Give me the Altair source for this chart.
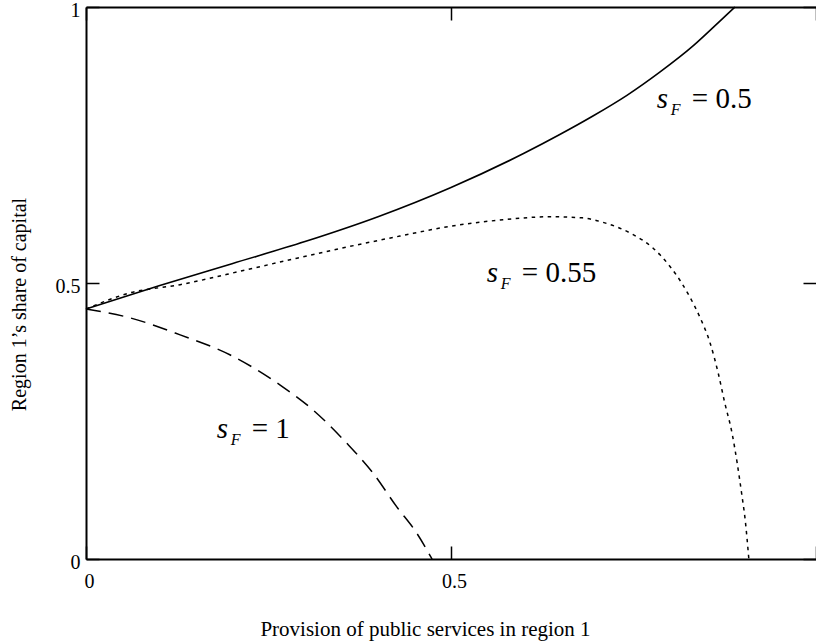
import altair as alt
import pandas as pd

# Region 1's share of capital against provision of public services in region 1
# s_F = 0.5 (solid)
sf05_x = [0.0, 0.1, 0.2, 0.3, 0.4, 0.5, 0.6, 0.649, 0.695, 0.741, 0.786, 0.832, 0.868, 0.889]
sf05_y = [0.453, 0.495, 0.535, 0.575, 0.620, 0.673, 0.735, 0.769, 0.803, 0.840, 0.882, 0.930,
          0.974, 1.0]

# s_F = 0.55 (dotted)
sf055_x = [0.0, 0.06, 0.129, 0.22, 0.289, 0.357, 0.43, 0.5, 0.567, 0.636, 0.68, 0.708,
           0.749, 0.777, 0.8, 0.816, 0.827, 0.841, 0.855, 0.866, 0.875, 0.885, 0.892,
           0.898, 0.903, 0.908]
sf055_y = [0.453, 0.482, 0.497, 0.524, 0.545, 0.565, 0.585, 0.603, 0.614, 0.620, 0.618, 0.610,
           0.588, 0.563, 0.530, 0.500, 0.475, 0.438, 0.391, 0.337, 0.283, 0.228, 0.174,
           0.120, 0.071, 0.0]

# s_F = 1 (dashed)
sf1_x = [0.0, 0.06, 0.129, 0.197, 0.266, 0.311, 0.357, 0.393, 0.426, 0.453, 0.474]
sf1_y = [0.453, 0.437, 0.406, 0.370, 0.315, 0.270, 0.210, 0.156, 0.094, 0.047, 0.0]

# curve labels: anchor of the italic "s", and the right-hand side of the equation
label_x = [0.782, 0.549, 0.179]
label_y = [0.817, 0.502, 0.219]
label_rhs = ["= 0.5", "= 0.55", "= 1"]

tick_values = [0, 0.5, 1]
x_label_values = [0, 0.5]
y_label_values = [0, 0.5, 1]

FONT = "Liberation Serif"

solid = pd.DataFrame({"x": sf05_x, "y": sf05_y})
dotted = pd.DataFrame({"x": sf055_x, "y": sf055_y})
dashed = pd.DataFrame({"x": sf1_x, "y": sf1_y})
labels = pd.DataFrame({"x": label_x, "y": label_y, "rhs": label_rhs})

xs = alt.Scale(domain=[0, 1], nice=False, zero=False)
ys = alt.Scale(domain=[0, 1], nice=False, zero=False)

# main axes: frame lines, tick labels, titles
x_main = alt.Axis(orient="bottom", values=x_label_values, format="~g", grid=False,
                  ticks=False, domain=True, domainColor="black", domainWidth=2,
                  labelFont=FONT, labelFontSize=20, labelColor="black", labelPadding=12,
                  labelFlush=False, labelOffset=3,
                  title="Provision of public services in region 1",
                  titleFont=FONT, titleFontSize=21, titleFontWeight="normal",
                  titleColor="black", titleX=339, titleY=76,
                  titleBaseline="alphabetic", titleAlign="center", titleAnchor="start")
y_main = alt.Axis(orient="left", values=y_label_values, format="~g", grid=False,
                  ticks=False, domain=True, domainColor="black", domainWidth=2,
                  labelFont=FONT, labelFontSize=20, labelColor="black", labelPadding=6,
                  labelFlush=False, labelOffset=3,
                  title="Region 1\u2019s share of capital",
                  titleFont=FONT, titleFontSize=20, titleFontWeight="normal",
                  titleColor="black", titleX=-61, titleY=297, titleAngle=-90,
                  titleBaseline="alphabetic", titleAlign="center", titleAnchor="start")
# top frame line
x_top = alt.Axis(orient="top", grid=False, ticks=False, labels=False, domain=True,
                 domainColor="black", domainWidth=2, title=None)


# inward tick marks on all four sides
def tick_axis(orient):
    return alt.Axis(orient=orient, values=tick_values, grid=False, ticks=True,
                    tickSize=13, tickColor="black", tickWidth=1.5, offset=-13,
                    labels=False, domain=False, title=None)


line_solid = alt.Chart(solid).mark_line(color="black", strokeWidth=1.6,
                                        interpolate="monotone").encode(
    x=alt.X("x:Q", scale=xs, axis=x_main),
    y=alt.Y("y:Q", scale=ys, axis=y_main),
    order="x:Q",
)
line_dotted = alt.Chart(dotted).mark_line(color="black", strokeWidth=1.5,
                                          interpolate="monotone",
                                          strokeDash=[3.5, 4.5]).encode(
    x=alt.X("x:Q", scale=xs, axis=x_top),
    y=alt.Y("y:Q", scale=ys, axis=tick_axis("left")),
    order="x:Q",
)
line_dashed = alt.Chart(dashed).mark_line(color="black", strokeWidth=1.5,
                                          interpolate="monotone",
                                          strokeDash=[15, 8]).encode(
    x=alt.X("x:Q", scale=xs, axis=tick_axis("bottom")),
    y=alt.Y("y:Q", scale=ys, axis=tick_axis("right")),
    order="x:Q",
)

s_text = alt.Chart(labels).mark_text(font=FONT, fontSize=29, fontStyle="italic",
                                     align="left", baseline="alphabetic",
                                     color="black").encode(
    x=alt.X("x:Q", scale=xs, axis=tick_axis("top")),
    y=alt.Y("y:Q", scale=ys, axis=None),
    text=alt.value("s"),
)
f_text = alt.Chart(labels).mark_text(font=FONT, fontSize=16, fontStyle="italic",
                                     align="left", baseline="alphabetic",
                                     dx=14, dy=7, color="black").encode(
    x=alt.X("x:Q", scale=xs, axis=None),
    y=alt.Y("y:Q", scale=ys, axis=None),
    text=alt.value("F"),
)
rhs_text = alt.Chart(labels).mark_text(font=FONT, fontSize=29, align="left",
                                       baseline="alphabetic", dx=35,
                                       color="black").encode(
    x=alt.X("x:Q", scale=xs, axis=None),
    y=alt.Y("y:Q", scale=ys, axis=None),
    text="rhs:N",
)

chart = alt.layer(
    line_solid, line_dotted, line_dashed, s_text, f_text, rhs_text
).resolve_axis(
    x="independent", y="independent"
).properties(
    width=730, height=552,
    padding={"left": 86, "top": 7, "right": 0, "bottom": 83},
    autosize=alt.AutoSizeParams(type="none"),
    background="white",
).configure_view(stroke=None)

chart.save("out.html", embed_options={"renderer": "svg", "actions": False})
